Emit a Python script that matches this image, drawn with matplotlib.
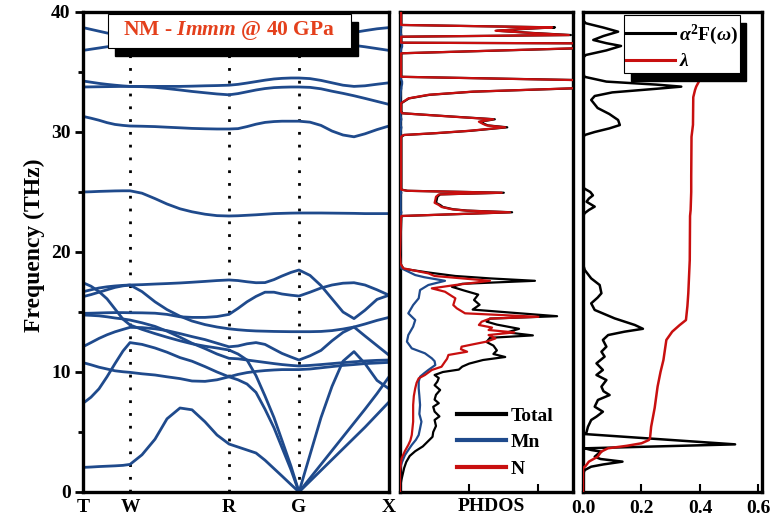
import numpy as np
import matplotlib.pyplot as plt
from matplotlib.patches import Rectangle

plt.rcParams['font.family'] = ['Liberation Serif', 'DejaVu Serif']
plt.rcParams['font.weight'] = 'bold'
plt.rcParams['mathtext.fontset'] = 'custom'
plt.rcParams['mathtext.rm'] = 'Liberation Serif:bold'
plt.rcParams['mathtext.it'] = 'Liberation Serif:italic:bold'
plt.rcParams['mathtext.bf'] = 'Liberation Serif:bold'

# ---- phonon dispersion (THz) along T-W-R-G-X ----
k_path = [0, 8, 16, 24, 32, 40, 47,
          59, 72, 84, 97, 109, 122, 134, 146,
          155, 164, 173, 182, 191, 199, 208, 216,
          227, 238, 249, 260, 271, 282, 294, 306]
k_ticks = [0, 47, 146, 216, 306]
k_labels = ["T", "W", "R", "G", "X"]

band_1 = [2.05, 2.08, 2.12, 2.15, 2.18, 2.22, 2.3,
          3.1, 4.4, 6.1, 7.0, 6.85, 5.85, 4.75, 4.0,
          3.75, 3.5, 3.25, 2.65, 1.95, 1.33, 0.62, 0.0,
          0.9, 1.8, 2.7, 3.6, 4.5, 5.4, 6.45, 7.5]
band_2 = [7.39, 7.9, 8.6, 9.6, 10.7, 11.75, 12.45,
          12.3, 12.0, 11.65, 11.2, 10.9, 10.45, 10.0, 9.6,
          9.35, 9.0, 8.3, 6.9, 5.35, 3.7, 1.85, 0.0,
          1.15, 2.3, 3.45, 4.6, 5.75, 6.9, 8.2, 9.6]
band_3 = [10.78, 10.6, 10.4, 10.25, 10.1, 10.02, 9.97,
          9.85, 9.75, 9.6, 9.45, 9.25, 9.22, 9.35, 9.6,
          9.8, 9.95, 10.05, 10.12, 10.17, 10.2, 10.2, 10.2,
          10.25, 10.35, 10.45, 10.55, 10.62, 10.7, 10.75, 10.8]
band_4 = [12.11, 12.45, 12.8, 13.1, 13.35, 13.55, 13.72,
          13.7, 13.6, 13.45, 13.2, 12.95, 12.7, 12.4, 12.1,
          12.17, 12.35, 12.45, 12.3, 11.9, 11.55, 11.25, 11.0,
          11.35, 11.8, 12.6, 13.3, 13.75, 13.0, 12.2, 11.4]
band_5 = [14.75, 14.72, 14.68, 14.6, 14.5, 14.42, 14.33,
          14.1, 13.8, 13.4, 12.9, 12.4, 11.95, 11.5, 11.14,
          11.1, 11.0, 10.9, 10.8, 10.7, 10.62, 10.55, 10.5,
          10.55, 10.62, 10.7, 10.78, 10.85, 10.92, 10.97, 11.0]
band_6 = [17.44, 17.15, 16.7, 16.1, 15.25, 14.4, 13.92,
          13.55, 13.2, 12.9, 12.6, 12.35, 12.15, 12.0, 11.83,
          11.5, 11.0, 9.7, 8.0, 6.2, 4.3, 2.15, 0.0,
          3.1, 6.2, 8.8, 10.9, 11.7, 10.7, 9.3, 8.6]
band_7 = [14.89, 14.9, 14.92, 14.94, 14.95, 14.95, 14.94,
          14.93, 14.9, 14.8, 14.6, 14.55, 14.55, 14.62, 14.8,
          15.3, 15.85, 16.3, 16.65, 16.65, 16.5, 16.4, 16.33,
          16.65, 17.0, 17.25, 17.4, 17.44, 17.25, 16.85, 16.4]
band_8 = [16.28, 16.45, 16.65, 16.85, 17.05, 17.18, 17.25,
          16.7, 15.85, 15.2, 14.65, 14.25, 13.95, 13.75, 13.6,
          13.52, 13.46, 13.42, 13.4, 13.38, 13.37, 13.36, 13.36,
          13.36, 13.38, 13.45, 13.58, 13.75, 14.0, 14.3, 14.55]
band_9 = [16.69, 16.85, 17.0, 17.1, 17.17, 17.22, 17.25,
          17.28, 17.33, 17.37, 17.42, 17.48, 17.55, 17.62, 17.67,
          17.62, 17.52, 17.44, 17.45, 17.7, 18.0, 18.3, 18.5,
          18.05, 17.2, 16.1, 15.0, 14.45, 15.15, 16.05, 16.4]
band_10 = [25.0, 25.02, 25.05, 25.07, 25.09, 25.1, 25.1,
           24.9, 24.45, 24.0, 23.6, 23.35, 23.15, 23.03, 23.0,
           23.02, 23.06, 23.1, 23.15, 23.2, 23.22, 23.24, 23.25,
           23.25, 23.25, 23.24, 23.23, 23.22, 23.2, 23.2, 23.2]
band_11 = [31.3, 31.15, 30.98, 30.78, 30.63, 30.55, 30.5,
           30.48, 30.45, 30.4, 30.35, 30.3, 30.27, 30.25, 30.25,
           30.28, 30.45, 30.65, 30.8, 30.87, 30.9, 30.9, 30.9,
           30.82, 30.55, 30.08, 29.75, 29.6, 29.85, 30.2, 30.5]
band_12 = [33.75, 33.76, 33.77, 33.78, 33.79, 33.8, 33.8,
           33.78, 33.72, 33.62, 33.5, 33.38, 33.27, 33.17, 33.1,
           33.2, 33.35, 33.5, 33.62, 33.7, 33.73, 33.75, 33.75,
           33.72, 33.6, 33.4, 33.22, 33.02, 32.8, 32.55, 32.3]
band_13 = [34.25, 34.15, 34.05, 33.97, 33.9, 33.84, 33.8,
           33.8, 33.8, 33.8, 33.8, 33.82, 33.85, 33.87, 33.9,
           33.97, 34.08, 34.2, 34.32, 34.42, 34.47, 34.5, 34.5,
           34.45, 34.3, 34.1, 33.9, 33.8, 33.85, 33.98, 34.1]
band_14 = [36.8, 36.9, 37.0, 37.1, 37.18, 37.25, 37.3,
           37.35, 37.4, 37.45, 37.5, 37.5, 37.5, 37.5, 37.5,
           37.5, 37.5, 37.5, 37.5, 37.5, 37.5, 37.5, 37.5,
           37.5, 37.45, 37.4, 37.32, 37.22, 37.1, 36.95, 36.8]
band_15 = [38.7, 38.55, 38.4, 38.25, 38.15, 38.08, 38.05,
           38.0, 38.0, 38.0, 38.0, 38.0, 38.0, 38.0, 38.0,
           38.0, 38.0, 38.0, 38.0, 38.0, 38.0, 38.0, 38.0,
           38.0, 38.02, 38.08, 38.18, 38.3, 38.45, 38.6, 38.7]

# ---- PHDOS (arb. units) ----
f_tot_low = [0.0, 0.5, 1.0, 1.5, 2.0, 2.5, 3.0, 3.4, 3.8, 4.2, 4.6, 5.0, 5.5, 6.0, 6.3, 6.7, 7.1, 7.4, 7.7, 8.1,
             8.5, 8.9, 9.2, 9.5, 9.75, 10.0, 10.2, 10.45, 10.7, 11.0, 11.25, 11.5, 11.8, 12.2, 12.5, 12.85, 13.05,
             13.3, 13.6, 13.95, 14.2, 14.45, 14.65, 14.95, 15.2, 15.6, 16.0, 16.45, 16.8, 17.1, 17.35, 17.6, 17.8,
             18.0, 18.3, 18.6, 19.0, 19.5]
tot_low = [0.0, 0.005, 0.02, 0.04, 0.06, 0.09, 0.14, 0.22, 0.33, 0.4, 0.47, 0.48, 0.52, 0.5, 0.57, 0.5, 0.48, 0.56,
           0.5, 0.52, 0.58, 0.5, 0.54, 0.56, 0.5, 0.62, 0.85, 0.9, 1.0, 1.2, 1.52, 1.35, 1.4, 1.35, 1.25, 1.3, 1.92,
           1.55, 1.72, 1.4, 1.25, 1.3, 2.27, 1.6, 1.05, 1.15, 1.07, 1.13, 0.92, 0.75, 0.9, 1.95, 1.3, 0.8, 0.4, 0.05,
           0.01, 0.0]
f_mn_low = [0.0, 1.97, 2.5, 3.08, 3.5, 3.92, 4.35, 4.75, 5.3, 5.86, 6.5, 7.25, 8.0, 8.64, 9.2, 9.61, 9.9, 10.17,
            10.58, 10.9, 11.14, 11.56, 11.97, 12.53, 13.08, 13.78, 14.33, 14.89, 15.58, 16.14, 16.83, 17.25, 17.6,
            17.9, 18.08, 18.64, 19.0, 19.5]
mn_low = [0.0, 0.0, 0.03, 0.072, 0.12, 0.17, 0.23, 0.27, 0.29, 0.31, 0.28, 0.29, 0.28, 0.27, 0.27, 0.29, 0.35, 0.41,
          0.51, 0.5, 0.46, 0.36, 0.17, 0.1, 0.12, 0.19, 0.22, 0.12, 0.19, 0.27, 0.29, 0.41, 0.65, 0.35, 0.22, 0.02,
          0.005, 0.0]
f_n_low = [0.0, 1.2, 1.69, 2.3, 2.81, 3.4, 3.92, 4.3, 4.75, 5.3, 5.86, 6.5, 7.25, 8.0, 8.64, 9.1, 9.47, 9.75, 10.17,
           10.44, 10.86, 11.1, 11.42, 11.69, 11.9, 12.11, 12.3, 12.53, 12.8, 13.08, 13.3, 13.5, 13.7, 13.92, 14.19,
           14.45, 14.6, 14.89, 15.31, 15.58, 16.14, 16.69, 16.97, 17.25, 17.6, 17.8, 18.0, 18.22, 18.64, 19.0, 19.75]
n_low = [0.0, 0.0, 0.0, 0.01, 0.024, 0.07, 0.12, 0.15, 0.17, 0.18, 0.19, 0.19, 0.19, 0.2, 0.22, 0.24, 0.27, 0.36,
         0.46, 0.6, 0.65, 0.68, 0.7, 0.97, 0.88, 0.89, 1.05, 1.25, 1.38, 1.28, 1.65, 1.28, 1.33, 1.14, 1.18, 1.3, 2.0,
         0.94, 0.82, 0.77, 0.8, 0.65, 0.46, 0.8, 1.3, 0.9, 0.5, 0.41, 0.048, 0.01, 0.0]

f_up = [22.9, 23.0, 23.31, 23.45, 23.56, 23.75, 23.92, 24.1, 24.33, 24.6, 24.8, 24.94, 25.1, 25.2,
        29.6, 29.75, 29.9, 30.1, 30.39, 30.55, 30.67, 30.86, 31.06, 31.3, 31.56, 31.7,
        32.4, 32.8, 33.1, 33.36, 33.64, 33.75, 34.0, 34.2, 34.33, 34.6, 36.56, 36.97, 37.1, 37.3, 37.39, 37.44,
        37.94, 38.08, 38.25, 38.44, 38.6, 38.72, 38.92, 40.0]
n_up = [0.015, 0.02, 1.59, 0.95, 0.75, 0.6, 0.56, 0.5, 0.51, 0.52, 0.56, 1.47, 0.1, 0.015,
        0.015, 0.05, 0.5, 1.0, 1.52, 1.25, 1.2, 1.14, 1.35, 0.7, 0.03, 0.015,
        0.015, 0.12, 0.41, 1.04, 2.49, 2.8, 3.0, 3.0, 2.5, 0.015, 0.015, 2.5, 3.0, 3.0, 2.5, 0.015,
        0.015, 2.44, 1.9, 1.38, 1.8, 2.2, 0.015, 0.015]
tot_up = [0.02, 0.03, 1.62, 0.97, 0.77, 0.62, 0.58, 0.52, 0.53, 0.54, 0.58, 1.5, 0.11, 0.02,
          0.02, 0.06, 0.52, 1.02, 1.55, 1.27, 1.22, 1.16, 1.37, 0.72, 0.04, 0.02,
          0.02, 0.13, 0.43, 1.06, 2.52, 2.85, 3.0, 3.0, 2.55, 0.02, 0.02, 2.55, 3.0, 3.0, 2.55, 0.02,
          0.02, 2.47, 1.93, 1.4, 1.83, 2.24, 0.02, 0.02]
mn_up = [0.005, 0.005, 0.02, 0.01, 0.01, 0.01, 0.01, 0.01, 0.01, 0.01, 0.01, 0.02, 0.005, 0.005,
         0.005, 0.005, 0.01, 0.01, 0.02, 0.01, 0.01, 0.01, 0.02, 0.01, 0.005, 0.005,
         0.005, 0.005, 0.01, 0.01, 0.02, 0.02, 0.03, 0.03, 0.02, 0.005, 0.005, 0.02, 0.03, 0.03, 0.02, 0.005,
         0.005, 0.02, 0.01, 0.01, 0.01, 0.02, 0.005, 0.005]

# ---- Eliashberg function and lambda ----
f_a2f = [0.0, 1.5, 1.83, 2.11, 2.3, 2.53, 2.75, 2.94, 3.15, 3.36, 3.5, 3.64, 3.97, 4.83, 4.89, 5.44, 6.0, 6.28,
         6.69, 7.11, 7.67, 8.08, 8.4, 8.78, 9.33, 9.75, 10.17, 10.72, 11.28, 11.69, 12.11, 12.67, 13.08, 13.36, 13.6,
         13.92, 14.47, 15.17, 15.72, 16.2, 16.56, 16.9, 17.25, 17.8, 18.5, 19.0, 22.9, 23.22, 23.5, 23.78, 24.0,
         24.19, 24.45, 24.72, 25.0, 25.28, 25.5, 29.5, 29.75, 30.0, 30.3, 30.58, 31.0, 31.5, 32.0, 32.67, 33.0, 33.3,
         33.6, 33.78, 33.95, 34.2, 34.6, 35.0, 36.2, 36.42, 36.8, 37.17, 37.4, 37.67, 38.0, 38.36, 38.7, 39.06,
         39.3, 40.0]
a2f = [0.0, 0.0, 0.006, 0.028, 0.07, 0.135, 0.06, 0.04, 0.05, 0.063, 0.028, 0.006, 0.52, 0.005, 0.011, 0.017,
       0.028, 0.046, 0.068, 0.04, 0.051, 0.091, 0.07, 0.063, 0.08, 0.046, 0.068, 0.046, 0.074, 0.063, 0.08, 0.068,
       0.086, 0.142, 0.205, 0.177, 0.108, 0.04, 0.028, 0.05, 0.063, 0.06, 0.057, 0.028, 0.006, 0.0, 0.0, 0.005,
       0.02, 0.04, 0.025, 0.012, 0.02, 0.034, 0.025, 0.005, 0.0, 0.0, 0.006, 0.04, 0.09, 0.126, 0.12, 0.09, 0.05,
       0.028, 0.04, 0.1, 0.25, 0.336, 0.25, 0.08, 0.005, 0.0, 0.0, 0.01, 0.08, 0.13, 0.08, 0.035, 0.07, 0.12, 0.07,
       0.01, 0.0, 0.0]
f_lam = [0.0, 1.97, 2.2, 2.53, 2.94, 3.36, 3.64, 3.85, 4.06, 4.33, 4.47, 5.44, 7.0, 8.78, 10.0, 11.0, 12.67, 13.36,
         13.9, 14.33, 15.5, 16.56, 19.33, 23.0, 23.5, 25.0, 26.3, 29.6, 30.6, 32.9, 33.5, 33.78, 34.33, 36.0, 38.0]
lam = [0.0, 0.0, 0.01, 0.02, 0.05, 0.062, 0.085, 0.15, 0.2, 0.225, 0.229, 0.233, 0.245, 0.255, 0.265, 0.275, 0.285,
       0.305, 0.33, 0.352, 0.357, 0.36, 0.365, 0.366, 0.368, 0.37, 0.37, 0.371, 0.376, 0.377, 0.383, 0.387, 0.399,
       0.405, 0.41]

bands = [band_1, band_2, band_3, band_4, band_5, band_6, band_7, band_8, band_9,
         band_10, band_11, band_12, band_13, band_14, band_15]

blue = '#1f4a8c'
red = '#c80f0f'
W, H = 775, 521


def rect(px0, px1, py0, py1):
    # figure pixel box -> figure fraction [l, b, w, h]
    return [px0 / W, 1 - py1 / H, (px1 - px0) / W, (py1 - py0) / H]


fig = plt.figure(figsize=(W / 100, H / 100), dpi=100)
ax1 = fig.add_axes(rect(83, 389, 12, 492))
ax2 = fig.add_axes(rect(400, 573, 12, 492))
ax3 = fig.add_axes(rect(583, 762, 12, 492))

for ax in (ax1, ax2, ax3):
    ax.set_ylim(0, 40)
    for s in ax.spines.values():
        s.set_linewidth(2.4)

# band structure
for kx in k_ticks[1:-1]:
    ax1.axvline(kx, color='black', lw=2, ls=(0, (1, 3.6)), zorder=1)
for b in bands:
    ax1.plot(k_path, b, color=blue, lw=2.0, zorder=2, solid_joinstyle='round')
ax1.set_xlim(k_ticks[0], k_ticks[-1])
ax1.set_xticks(k_ticks)
ax1.set_xticklabels(k_labels)
ax1.tick_params(axis='x', length=0, pad=5, labelsize=14)
ax1.set_yticks([0, 10, 20, 30, 40])
ax1.set_yticks([5, 15, 25, 35], minor=True)
ax1.tick_params(axis='y', direction='out', length=6, width=2, labelsize=14, pad=3)
ax1.tick_params(axis='y', which='minor', direction='out', length=3.5, width=2)
ax1.set_ylabel('Frequency (THz)', fontsize=17, fontweight='bold')
ax1.yaxis.set_label_coords(-0.125, 0.515)

# title box with shadow
ax1.add_patch(Rectangle((0.105, 0.908), 0.794, 0.071, transform=ax1.transAxes,
                        facecolor='black', edgecolor='black', zorder=10, clip_on=False))
ax1.add_patch(Rectangle((0.082, 0.925), 0.794, 0.071, transform=ax1.transAxes,
                        facecolor='white', edgecolor='black', lw=0.8, zorder=11, clip_on=False))
ax1.text(0.479, 0.961, 'NM - $Immm$ @ 40 GPa', transform=ax1.transAxes, ha='center', va='center',
         color='#e4401c', fontsize=15.5, fontweight='bold', zorder=12)

# PHDOS
ax2.plot(tot_low + tot_up, f_tot_low + f_up, color='black', lw=1.6, label='Total', zorder=2)
ax2.plot(mn_low + mn_up, f_mn_low + f_up, color=blue, lw=1.6, label='Mn', zorder=3)
ax2.plot(n_low + n_up, f_n_low + f_up, color=red, lw=1.6, label='N', zorder=4)
ax2.set_xlim(0, 2.5)
ax2.set_xticks([1, 2])
ax2.set_xticklabels([])
ax2.set_yticks([])
ax2.tick_params(axis='x', direction='in', length=6, width=1.5)
ax2.text(0.53, -0.013, 'PHDOS', transform=ax2.transAxes, ha='center', va='top', fontsize=14, fontweight='bold')
ax2.legend(loc='lower left', bbox_to_anchor=(0.33, 0.03), frameon=False, fontsize=14, handlelength=2.5,
           handletextpad=0.25, labelspacing=0.45, borderpad=0, borderaxespad=0)
for ln in ax2.get_legend().get_lines():
    ln.set_linewidth(3)

# a2F and lambda
ax3.plot(a2f, f_a2f, color='black', lw=1.8, label=r'$\alpha^2$F($\omega$)', zorder=2)
ax3.plot(lam, f_lam, color=red, lw=1.8, label=r'$\lambda$', zorder=3)
ax3.set_xlim(0, 0.612)
ax3.set_xticks([0.0, 0.2, 0.4, 0.6])
ax3.set_xticklabels(['0.0', '0.2', '0.4', '0.6'])
ax3.set_yticks([])
ax3.tick_params(axis='x', direction='in', length=6, width=1.5, labelsize=14, pad=6)
ax3.add_patch(Rectangle((0.268, 0.856), 0.643, 0.121, transform=ax3.transAxes,
                        facecolor='black', edgecolor='black', zorder=4, clip_on=False))
ax3.add_patch(Rectangle((0.229, 0.873), 0.648, 0.121, transform=ax3.transAxes,
                        facecolor='white', edgecolor='black', lw=0.8, zorder=4.5, clip_on=False))
leg3 = ax3.legend(loc='upper left', bbox_to_anchor=(0.24, 0.978), frameon=False, fontsize=14, handlelength=2.5,
                  handletextpad=0.25, labelspacing=0.3, borderpad=0, borderaxespad=0)
leg3.set_zorder(6)
for ln in leg3.get_lines():
    ln.set_linewidth(2.2)

fig.savefig('out.png', dpi=100)
